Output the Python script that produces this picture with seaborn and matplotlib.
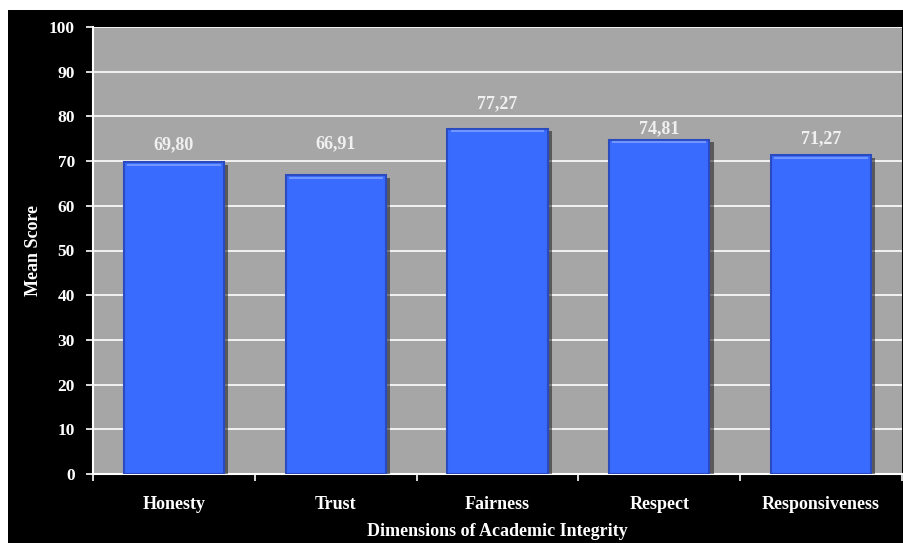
import matplotlib
matplotlib.use("Agg")
import matplotlib.pyplot as plt
import matplotlib.patheffects as pe
from matplotlib.patches import Rectangle
import numpy as np
import pandas as pd
import seaborn as sns

dimensions = ["Honesty", "Trust", "Fairness", "Respect", "Responsiveness"]
mean_scores = [69.80, 66.91, 77.27, 74.81, 71.27]
value_labels = ["69,80", "66,91", "77,27", "74,81", "71,27"]
y_ticks = [0, 10, 20, 30, 40, 50, 60, 70, 80, 90, 100]

# where each value label sits (label centre, in score units), as in the original
label_y = [73.6, 73.8, 82.8, 77.2, 75.0]

sns.set_style("white")
plt.rcParams['font.family'] = ['Liberation Serif', 'DejaVu Serif']
plt.rcParams['font.weight'] = 'bold'

df = pd.DataFrame({"Dimension": dimensions, "Score": mean_scores})

fig = plt.figure(figsize=(9.04, 5.43), dpi=100, facecolor="white")
# black panel behind the chart, with a thin white strip on top and left
fig.patches.append(Rectangle((8 / 904, 0), 1, 1 - 10 / 543, transform=fig.transFigure,
                             facecolor="black", edgecolor="none", zorder=-10))
ax = fig.add_axes([93 / 904, 69 / 543, 809 / 904, 447 / 543])
ax.set_facecolor("#a6a6a6")

sns.barplot(data=df, x="Dimension", y="Score", ax=ax, color="#3a6bff",
            width=0.62, edgecolor="#2a4bc0", linewidth=1.5, zorder=3,
            saturation=1)

for bar, lab, ly in zip(ax.patches, value_labels, label_y):
    bar.set_path_effects([pe.SimplePatchShadow(offset=(3, -2), shadow_rgbFace="#1a1a1a",
                                               alpha=0.55), pe.Normal()])
    x0, w, h = bar.get_x(), bar.get_width(), bar.get_height()
    ax.plot([x0 + 0.02, x0 + w - 0.02], [h - 0.6, h - 0.6], color="#6f95ff",
            lw=1.5, zorder=4, solid_capstyle="butt")
    ax.text(x0 + w / 2, ly, lab, ha="center", va="center", color="#f0f0f0",
            fontsize=13, fontweight="bold", zorder=5)

ax.set_ylim(0, 100)
ax.set_xlim(-0.5, len(dimensions) - 0.5)
ax.set_yticks(y_ticks)
ax.yaxis.grid(True, color="white", lw=1.2, zorder=1)
ax.set_axisbelow(True)

ax.tick_params(axis="y", colors="white", labelsize=12.5, length=5, width=1.2, left=True, pad=8)
ax.tick_params(axis="x", which="major", length=0, labelsize=13, labelcolor="white", pad=16)
ax.set_xticks(np.arange(len(dimensions) + 1) - 0.5, minor=True)
ax.tick_params(axis="x", which="minor", length=5, width=1.2, color="white", bottom=True)
for lab in ax.get_xticklabels() + ax.get_yticklabels():
    lab.set_fontweight("bold")

for side in ["top", "right"]:
    ax.spines[side].set_visible(False)
for side in ["left", "bottom"]:
    ax.spines[side].set_color("white")
    ax.spines[side].set_linewidth(1.5)

ax.set_xlabel("Dimensions of Academic Integrity", color="white", fontsize=13,
              fontweight="bold", labelpad=7)
ax.set_ylabel("Mean Score", color="white", fontsize=13, fontweight="bold", labelpad=5)

fig.savefig("out.png", dpi=100, facecolor=fig.get_facecolor())
